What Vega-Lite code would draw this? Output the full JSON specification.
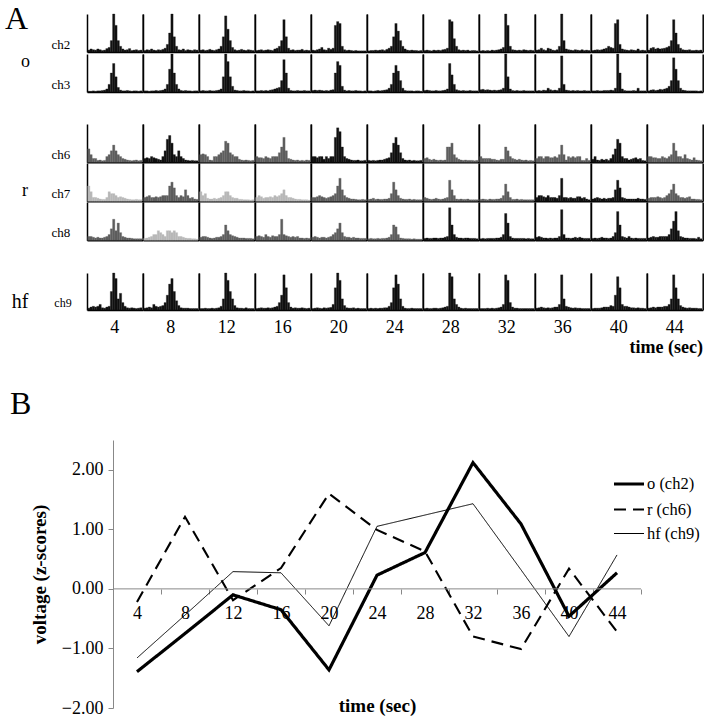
{
  "$schema": "https://vega.github.io/schema/vega-lite/v6.json",
  "padding": {"left": 5, "top": 2, "right": 5, "bottom": 2},
  "background": "white",
  "config": {
    "font": "Liberation Serif",
    "view": {"stroke": null},
    "axis": {"grid": false},
    "title": {"font": "Liberation Serif"},
    "header": {"labelFont": "Liberation Serif", "titleFont": "Liberation Serif"}
  },
  "title": {"text": "A", "anchor": "start", "fontSize": 32, "fontWeight": "normal", "dx": -5, "dy": 22, "offset": 0},
  "datasets": {
    "hist": [
      {"g":"o","ch":"ch2","t":4,"c":"k","v":[0.5,0.8,0.6,0.5,0.8,0.6,0.4,0.5,0.9,1.2,3,10,7,3,1.5,0.8,0.5,0.6,0.9,0.4,0.5,0.6,0.4,0.5]},
      {"g":"o","ch":"ch2","t":8,"c":"k","v":[0.4,0.6,0.5,0.8,0.5,0.4,0.6,0.5,0.7,1,2,5,10,4,1.5,0.6,0.5,0.8,0.4,0.6,0.5,0.4,0.6,0.5]},
      {"g":"o","ch":"ch2","t":12,"c":"k","v":[0.5,0.6,0.4,0.5,0.7,0.5,0.4,0.6,0.8,1.5,4,9.5,6,3,1.2,0.6,0.4,0.5,0.7,0.5,0.4,0.6,0.5,0.4]},
      {"g":"o","ch":"ch2","t":16,"c":"k","v":[0.4,0.5,0.6,0.4,0.5,0.6,0.5,0.4,0.8,1,1.5,3,8.5,4,1,0.5,0.6,0.4,0.5,0.5,0.7,0.4,0.5,0.4]},
      {"g":"o","ch":"ch2","t":20,"c":"k","v":[0.5,0.4,0.6,0.8,1.2,0.6,0.5,1,0.7,1,7,8,7.5,1.5,0.6,0.4,0.5,0.4,0.3,0.4,0.3,0.3,0.3,0.3]},
      {"g":"o","ch":"ch2","t":24,"c":"k","v":[0.3,0.4,0.4,0.5,0.4,0.5,0.6,0.4,0.7,1,1.5,4,7.5,5.5,3,1.5,0.8,0.5,0.4,0.5,0.4,0.4,0.3,0.4]},
      {"g":"o","ch":"ch2","t":28,"c":"k","v":[0.4,0.5,0.4,0.3,0.5,0.4,0.5,0.4,0.6,0.7,1,8.5,8,3.5,1.5,0.6,0.4,0.5,0.4,0.5,0.3,0.4,0.4,0.3]},
      {"g":"o","ch":"ch2","t":32,"c":"k","v":[0.3,0.4,0.3,0.4,0.3,0.5,0.4,0.5,0.6,0.8,1.2,10,7,1.5,0.6,0.5,0.4,0.5,0.4,0.6,0.5,0.4,0.5,0.4]},
      {"g":"o","ch":"ch2","t":36,"c":"k","v":[0.5,0.6,1,0.6,0.4,1,0.8,0.5,0.4,0.6,1.5,10,3,0.8,0.6,0.5,0.4,0.6,0.5,0.4,0.6,0.4,0.5,0.4]},
      {"g":"o","ch":"ch2","t":40,"c":"k","v":[0.4,0.5,0.6,0.5,0.6,0.8,1,1.5,1.2,1,7.5,8.5,2,0.8,0.6,0.5,0.4,0.6,0.5,0.4,0.8,0.4,0.5,0.4]},
      {"g":"o","ch":"ch2","t":44,"c":"k","v":[0.5,1,1.2,0.8,1,0.8,0.9,1,1.2,1.5,3,8.5,5,2,1,0.6,0.5,0.5,0.6,0.4,0.4,0.5,0.4,0.5]},
      {"g":"o","ch":"ch3","t":4,"c":"k","v":[0.2,0.2,0.3,0.2,0.3,0.3,0.4,0.5,0.8,2,5,7.5,4,1.2,0.5,0.3,0.3,0.4,0.3,0.2,0.3,0.3,0.2,0.3]},
      {"g":"o","ch":"ch3","t":8,"c":"k","v":[0.3,0.3,0.2,0.3,0.3,0.4,0.3,0.4,0.5,0.8,2,6,10,5,2,0.8,0.4,0.3,0.4,0.3,0.3,0.2,0.3,0.3]},
      {"g":"o","ch":"ch3","t":12,"c":"k","v":[0.3,0.4,0.3,0.3,0.4,0.3,0.3,0.4,0.5,0.8,4,10,8,4,1.5,0.5,0.4,0.3,0.3,0.4,0.3,0.3,0.2,0.3]},
      {"g":"o","ch":"ch3","t":16,"c":"k","v":[0.3,0.3,0.4,0.3,0.4,0.3,0.5,0.6,0.8,1,1.2,3,8.5,5,1,0.4,0.3,0.3,0.4,0.3,0.3,0.4,0.3,0.3]},
      {"g":"o","ch":"ch3","t":20,"c":"k","v":[0.4,0.5,0.4,0.5,0.4,0.3,0.4,0.3,0.5,0.6,5,8,7,1.5,0.5,0.3,0.4,0.3,0.3,0.4,0.3,0.3,0.2,0.3]},
      {"g":"o","ch":"ch3","t":24,"c":"k","v":[0.3,0.3,0.2,0.3,0.4,0.3,0.4,0.5,0.6,1,2,5,7,5.5,3,1,0.4,0.3,0.3,0.3,0.2,0.3,0.3,0.2]},
      {"g":"o","ch":"ch3","t":28,"c":"k","v":[0.4,0.5,0.4,0.3,0.3,0.4,0.3,0.3,0.4,0.5,0.8,7.5,4.5,2,0.6,0.4,0.3,0.4,0.3,0.3,0.4,0.3,0.3,0.3]},
      {"g":"o","ch":"ch3","t":32,"c":"k","v":[0.6,0.7,0.5,0.6,0.5,0.4,0.5,0.4,0.5,0.6,1,10,4,0.8,0.4,0.3,0.4,0.3,0.3,0.4,0.3,0.3,0.3,0.3]},
      {"g":"o","ch":"ch3","t":36,"c":"k","v":[0.3,0.4,0.3,0.5,0.4,1,0.6,0.4,0.5,0.4,1,9.5,2,0.5,0.4,0.3,0.4,0.3,0.4,0.3,0.3,0.4,0.3,0.3]},
      {"g":"o","ch":"ch3","t":40,"c":"k","v":[0.3,0.3,0.4,0.3,0.3,0.4,0.4,0.4,0.5,0.4,1,10,5,0.8,0.4,0.3,0.3,0.3,0.4,0.3,1,0.3,0.3,0.3]},
      {"g":"o","ch":"ch3","t":44,"c":"k","v":[0.3,0.5,0.6,0.4,0.5,0.7,0.6,0.8,1,1.5,3,9,6,3,1,0.5,0.4,0.3,0.3,0.3,0.3,0.3,0.2,0.3]},
      {"g":"r","ch":"ch6","t":4,"c":"d","v":[3.5,2,1,1,0.5,0.6,0.4,0.5,1.5,2,3,4.5,3,2,1.5,1,0.8,0.6,0.5,0.4,0.5,0.6,0.4,0.5]},
      {"g":"r","ch":"ch6","t":8,"c":"k","v":[1,1.2,1,1.5,1.2,1,0.8,0.6,1.5,3,6,7,5,2,1.5,3,1.5,1,0.6,0.5,0.4,0.5,0.4,0.4]},
      {"g":"r","ch":"ch6","t":12,"c":"d","v":[2,2.2,2,1.5,0.6,0.5,1.5,1.5,2,2.5,3,5.5,5,2.5,2,1.5,1.5,0.8,0.6,0.5,0.6,0.5,0.4,0.5]},
      {"g":"r","ch":"ch6","t":16,"c":"d","v":[1.5,1.2,1.2,1,1.5,1.2,1,1.5,1.5,1.5,2.5,4,6.5,3,1,0.8,0.6,0.5,0.6,0.4,0.5,0.4,0.6,0.5]},
      {"g":"r","ch":"ch6","t":20,"c":"k","v":[1.5,1.5,1.2,1.5,1.5,0.8,1.5,1,1.5,1.5,6.5,9,8,4,1.5,1,0.8,0.6,0.5,0.5,0.6,0.4,0.4,0.5]},
      {"g":"r","ch":"ch6","t":24,"c":"k","v":[0.5,0.4,0.5,0.4,0.5,0.6,0.6,0.8,1,1.2,2.5,5,6.5,4.5,2.5,1,0.6,0.5,0.6,0.4,0.5,0.4,0.4,0.5]},
      {"g":"r","ch":"ch6","t":28,"c":"d","v":[1,1.2,0.8,0.6,0.8,0.6,0.5,0.6,0.5,0.6,4,4,5,2,1.2,0.8,0.6,0.5,0.6,0.5,0.5,0.5,0.4,0.5]},
      {"g":"r","ch":"ch6","t":32,"c":"d","v":[1.5,1,1,1,1,0.8,0.8,0.6,0.5,0.8,0.8,4,3,1.5,1,0.8,0.6,0.8,0.6,0.5,0.6,0.4,0.5,0.4]},
      {"g":"r","ch":"ch6","t":36,"c":"d","v":[1,1.5,1.5,1,1.5,1.5,1.2,1.2,1.5,1.2,2,4.5,2,0.6,1.5,1.2,1.5,1.2,1.5,1.5,0.5,0.5,1,0.5]},
      {"g":"r","ch":"ch6","t":40,"c":"k","v":[0.8,1.5,0.6,0.5,0.8,0.6,0.8,0.5,1,2,3.5,6,5,1.5,1,1,0.6,0.8,1,1.2,0.8,1,0.5,0.4]},
      {"g":"r","ch":"ch6","t":44,"c":"d","v":[1.5,1.5,1.2,1.2,1,1,1.5,1.2,1,1.5,2,5,3,1.5,1.5,1,2,1,0.8,0.6,1.2,0.6,0.5,0.4]},
      {"g":"r","ch":"ch7","t":4,"c":"l","v":[4,2.5,1,1,0.8,0.6,0.5,0.5,1,2.5,2,2,1.5,1,1.2,1,0.8,0.6,0.5,0.4,0.4,0.5,0.4,0.4]},
      {"g":"r","ch":"ch7","t":8,"c":"d","v":[1,1.2,1.5,1,1,1.2,1,1.2,1.5,1.5,1.5,4,5,3.5,1.5,1,1.5,1.2,3,1.5,0.8,1,0.6,0.5]},
      {"g":"r","ch":"ch7","t":12,"c":"l","v":[2.5,1.5,2,0.8,0.6,0.6,0.8,0.6,0.8,1,1.5,2.5,2.5,1.5,1,0.8,0.8,0.5,0.5,0.4,0.4,0.4,0.3,0.4]},
      {"g":"r","ch":"ch7","t":16,"c":"l","v":[1,1.5,1.2,0.8,1,1,1.2,1,1.5,1.2,1.5,2,3,1.5,1,1,0.8,0.6,0.5,0.5,0.4,0.4,0.4,0.3]},
      {"g":"r","ch":"ch7","t":20,"c":"d","v":[1,1,1.2,1.5,1.2,1,0.8,1,1.2,1.5,2,4,6,3,1.5,1,0.8,0.6,0.6,0.5,0.4,0.4,0.5,0.4]},
      {"g":"r","ch":"ch7","t":24,"c":"d","v":[0.5,0.6,0.8,0.5,0.6,0.5,0.5,0.6,0.6,0.8,2,5,3,1.5,0.8,0.6,0.5,0.5,0.6,0.4,0.5,0.4,0.4,0.4]},
      {"g":"r","ch":"ch7","t":28,"c":"d","v":[1,0.8,0.6,0.5,0.6,0.8,0.6,0.5,0.6,0.8,1,5.5,3,1.5,0.6,0.5,0.6,0.5,0.5,0.6,0.4,0.4,0.4,0.4]},
      {"g":"r","ch":"ch7","t":32,"c":"d","v":[0.5,0.6,0.5,0.4,0.6,0.5,0.5,0.6,0.6,0.8,1.5,4.5,2.5,1,0.5,0.5,0.6,0.4,0.5,0.4,0.4,0.4,0.4,0.4]},
      {"g":"r","ch":"ch7","t":36,"c":"k","v":[1,1.5,1.5,1.2,1,1.5,1,1,1,0.8,1.5,6,1,1,0.8,1,0.8,0.8,1.2,1.2,0.8,1,0.6,0.4]},
      {"g":"r","ch":"ch7","t":40,"c":"k","v":[0.6,0.8,1,0.8,0.6,0.8,0.6,0.8,0.8,1,3,5.5,3.5,1,0.8,0.6,0.6,0.6,0.6,0.6,0.8,0.6,0.6,0.5]},
      {"g":"r","ch":"ch7","t":44,"c":"d","v":[0.8,1,1,1,1.2,1,0.8,1,1.5,2,3,4.5,2,1.5,1,1,0.8,1,1.2,0.6,0.6,0.5,0.5,0.4]},
      {"g":"r","ch":"ch8","t":4,"c":"d","v":[1,1,0.8,0.6,0.8,0.6,0.6,0.8,1,1.5,3,5.5,2.5,4.5,2,1,0.8,0.6,0.6,0.5,0.4,0.4,0.4,0.4]},
      {"g":"r","ch":"ch8","t":8,"c":"l","v":[0.5,0.6,0.8,1,1.5,1.5,2.5,2,1.5,1,2.5,2.5,2,2.5,2,1,1,0.8,0.6,0.5,0.5,0.4,0.4,0.3]},
      {"g":"r","ch":"ch8","t":12,"c":"d","v":[0.8,1,1,0.8,0.6,0.5,0.6,0.8,0.8,1,1.5,4,2.5,1.5,1.2,1,0.8,0.6,0.6,0.6,0.5,0.5,0.5,0.4]},
      {"g":"r","ch":"ch8","t":16,"c":"d","v":[1,1.2,1,0.8,1.5,1,0.8,1.2,1,1,1.5,5.5,1.5,1.2,1,0.8,1,0.8,1,0.6,0.6,0.5,0.6,0.5]},
      {"g":"r","ch":"ch8","t":20,"c":"d","v":[0.8,1,0.8,0.6,0.8,0.8,0.6,0.8,1,1.5,2,3,4.5,2,1,0.8,0.8,0.6,0.8,0.6,0.6,0.5,0.5,0.5]},
      {"g":"r","ch":"ch8","t":24,"c":"d","v":[0.4,0.5,0.4,0.4,0.5,0.4,0.5,0.5,0.6,0.8,1.5,4,3.5,1.5,0.6,0.5,0.4,0.4,0.4,0.3,0.4,0.3,0.3,0.3]},
      {"g":"r","ch":"ch8","t":28,"c":"k","v":[0.5,0.6,0.5,0.5,0.6,0.6,0.5,0.6,0.6,0.8,1,8.5,4,1.5,0.8,0.6,0.6,0.5,0.6,0.6,0.5,0.5,0.5,0.4]},
      {"g":"r","ch":"ch8","t":32,"c":"k","v":[0.4,0.5,0.4,0.5,0.5,0.5,0.5,0.6,0.6,0.8,1.5,7,4.5,1,0.6,0.5,0.5,0.5,0.5,0.5,0.4,0.5,0.4,0.4]},
      {"g":"r","ch":"ch8","t":36,"c":"k","v":[0.8,1,0.8,0.6,0.6,0.5,0.6,0.5,0.6,0.6,1,8,1.5,0.6,0.6,0.5,0.6,0.8,0.6,0.8,0.6,0.5,0.5,0.5]},
      {"g":"r","ch":"ch8","t":40,"c":"k","v":[0.5,0.6,0.5,0.6,0.8,0.6,0.6,0.5,0.6,1,2,7.5,4,1,0.8,0.6,1,0.6,0.5,0.6,0.5,0.5,0.5,0.5]},
      {"g":"r","ch":"ch8","t":44,"c":"k","v":[0.6,0.8,1,0.8,0.8,1,1,1,1,1.5,3,5,7.5,2.5,1,0.8,0.6,0.6,0.5,0.5,0.5,0.4,0.8,0.4]},
      {"g":"hf","ch":"ch9","t":4,"c":"k","v":[0.5,0.8,1,0.8,1,1.5,0.6,0.5,0.8,1,5,10,8.5,3,4.5,2,1,0.6,0.5,0.6,0.5,0.4,0.5,0.6]},
      {"g":"hf","ch":"ch9","t":8,"c":"k","v":[0.5,0.6,0.8,0.6,1.5,1,0.8,1,1.2,2,4,7,8.5,5,2.5,1.2,0.6,0.5,0.5,0.5,0.4,0.4,0.4,0.4]},
      {"g":"hf","ch":"ch9","t":12,"c":"k","v":[0.4,0.4,0.5,0.4,0.4,0.5,0.4,0.5,0.6,1,3,10,8,5,3,1.2,0.6,0.5,0.5,0.4,0.6,0.4,0.4,0.4]},
      {"g":"hf","ch":"ch9","t":16,"c":"k","v":[0.4,0.5,0.6,0.5,0.5,0.6,0.5,0.6,0.8,1,2,4,9.5,6,2,0.8,0.5,0.6,0.5,0.5,0.6,0.5,0.4,0.5]},
      {"g":"hf","ch":"ch9","t":20,"c":"k","v":[0.4,0.5,0.6,0.5,0.4,0.6,0.5,0.6,0.7,1.5,6,10,8,3,1.2,0.6,0.5,0.5,0.6,0.4,0.5,0.4,0.4,0.4]},
      {"g":"hf","ch":"ch9","t":24,"c":"k","v":[0.4,0.5,0.4,0.5,0.4,0.5,0.5,0.6,0.6,1,2,6,9.5,7,3,1,0.5,0.4,0.4,0.5,0.4,0.4,0.4,0.4]},
      {"g":"hf","ch":"ch9","t":28,"c":"k","v":[0.4,0.5,0.4,0.4,0.5,0.5,0.4,0.5,0.6,0.8,1,10,9,3,1.5,0.8,0.5,0.4,0.5,0.4,0.4,0.4,0.4,0.4]},
      {"g":"hf","ch":"ch9","t":32,"c":"k","v":[0.4,0.4,0.4,0.5,0.4,0.5,0.4,0.5,0.6,0.8,1.5,9.5,8,2,0.8,0.5,0.5,0.4,0.4,0.4,0.4,0.4,0.4,0.4]},
      {"g":"hf","ch":"ch9","t":36,"c":"k","v":[0.5,0.6,0.8,0.6,0.5,0.6,0.5,0.6,0.8,0.8,1.5,9.5,3,1,0.8,0.6,0.5,0.6,0.5,0.5,0.4,0.4,0.4,0.4]},
      {"g":"hf","ch":"ch9","t":40,"c":"k","v":[0.4,0.5,0.5,0.5,0.6,0.8,0.8,0.8,1.2,1,4,9,6,1.5,1,1,0.8,0.6,0.6,0.5,0.6,0.5,0.5,0.4]},
      {"g":"hf","ch":"ch9","t":44,"c":"k","v":[0.5,0.6,0.8,0.6,0.8,0.8,0.8,1,1,1.5,3,9.5,6,3,1.2,0.8,0.6,0.5,0.6,0.5,0.5,0.5,0.4,0.4]}
    ],
    "z": [
      {"s":"o (ch2)","t":4,"z":-1.39},{"s":"o (ch2)","t":8,"z":-0.75},{"s":"o (ch2)","t":12,"z":-0.10},{"s":"o (ch2)","t":16,"z":-0.35},{"s":"o (ch2)","t":20,"z":-1.36},{"s":"o (ch2)","t":24,"z":0.23},{"s":"o (ch2)","t":28,"z":0.61},{"s":"o (ch2)","t":32,"z":2.12},{"s":"o (ch2)","t":36,"z":1.09},{"s":"o (ch2)","t":40,"z":-0.46},{"s":"o (ch2)","t":44,"z":0.27},
      {"s":"r (ch6)","t":4,"z":-0.22},{"s":"r (ch6)","t":8,"z":1.21},{"s":"r (ch6)","t":12,"z":-0.19},{"s":"r (ch6)","t":16,"z":0.35},{"s":"r (ch6)","t":20,"z":1.60},{"s":"r (ch6)","t":24,"z":0.99},{"s":"r (ch6)","t":28,"z":0.63},{"s":"r (ch6)","t":32,"z":-0.80},{"s":"r (ch6)","t":36,"z":-1.01},{"s":"r (ch6)","t":40,"z":0.34},{"s":"r (ch6)","t":44,"z":-0.72},
      {"s":"hf (ch9)","t":4,"z":-1.16},{"s":"hf (ch9)","t":8,"z":-0.44},{"s":"hf (ch9)","t":12,"z":0.29},{"s":"hf (ch9)","t":16,"z":0.27},{"s":"hf (ch9)","t":20,"z":-0.62},{"s":"hf (ch9)","t":24,"z":1.05},{"s":"hf (ch9)","t":28,"z":1.24},{"s":"hf (ch9)","t":32,"z":1.43},{"s":"hf (ch9)","t":36,"z":0.32},{"s":"hf (ch9)","t":40,"z":-0.80},{"s":"hf (ch9)","t":44,"z":0.57}
    ]
  },
  "columns": 1,
  "spacing": 31,
  "resolve": {"legend": {"strokeDash": "independent", "strokeWidth": "independent"}},
  "concat": [
    {
      "data": {"name": "hist"},
      "transform": [
        {"filter": "datum.g === 'o'"},
        {"flatten": ["v"]},
        {"window": [{"op": "row_number", "as": "i"}], "groupby": ["ch", "t"]}
      ],
      "facet": {
        "row": {"field": "ch", "type": "nominal", "header": {"labelOrient": "left", "labelAngle": 0, "labelAlign": "right", "labelFontSize": 13, "labelPadding": -2, "labelAnchor": "start", "labelBaseline": "bottom", "title": "o", "titleOrient": "left", "titleAngle": 0, "titleFontSize": 18, "titleFontWeight": "normal", "titlePadding": 2, "titleBaseline": "top"}},
        "column": {"field": "t", "type": "ordinal", "header": {"labels": false, "title": null}}
      },
      "spacing": {"row": 0, "column": 0},
      "resolve": {"axis": {"x": "independent", "y": "independent"}},
      "spec": {
        "width": 55.7, "height": 38,
        "layer": [
          {
            "mark": {"type": "bar", "strokeWidth": 0.3},
            "encoding": {
              "x": {"field": "i", "type": "ordinal", "scale": {"paddingInner": 0, "paddingOuter": 0.3}, "axis": {"title": null, "labels": false, "ticks": false, "domainColor": "#000", "domainWidth": 1.5}},
              "y": {"field": "v", "type": "quantitative", "scale": {"domain": [0, 10]}, "axis": {"title": null, "labels": false, "ticks": false, "domainColor": "#000", "domainWidth": 1.5}},
              "color": {"field": "c", "type": "nominal", "scale": {"domain": ["k", "d", "l"], "range": ["#111111", "#5e5e5e", "#b8b8b8"]}, "legend": null},
              "stroke": {"field": "c", "type": "nominal", "scale": {"domain": ["k", "d", "l"], "range": ["#111111", "#5e5e5e", "#b8b8b8"]}, "legend": null}
            }
          },
          {
            "mark": {"type": "bar", "opacity": 0},
            "encoding": {
              "x": {"field": "i", "type": "ordinal"},
              "y": {"field": "v", "type": "quantitative", "axis": {"orient": "right", "title": null, "labels": false, "ticks": false, "domainColor": "#000", "domainWidth": 1.5}}
            }
          }
        ],
        "resolve": {"axis": {"y": "independent"}}
      }
    },
    {
      "data": {"name": "hist"},
      "transform": [
        {"filter": "datum.g === 'r'"},
        {"flatten": ["v"]},
        {"window": [{"op": "row_number", "as": "i"}], "groupby": ["ch", "t"]}
      ],
      "facet": {
        "row": {"field": "ch", "type": "nominal", "header": {"labelOrient": "left", "labelAngle": 0, "labelAlign": "right", "labelFontSize": 13, "labelPadding": -2, "labelAnchor": "start", "labelBaseline": "bottom", "title": "r", "titleOrient": "left", "titleAngle": 0, "titleFontSize": 18, "titleFontWeight": "normal", "titlePadding": 7, "titleBaseline": "top"}},
        "column": {"field": "t", "type": "ordinal", "header": {"labels": false, "title": null}}
      },
      "spacing": {"row": 0, "column": 0},
      "resolve": {"axis": {"x": "independent", "y": "independent"}},
      "spec": {
        "width": 55.7, "height": 38.3,
        "layer": [
          {
            "mark": {"type": "bar", "strokeWidth": 0.3},
            "encoding": {
              "x": {"field": "i", "type": "ordinal", "scale": {"paddingInner": 0, "paddingOuter": 0.3}, "axis": {"title": null, "labels": false, "ticks": false, "domainColor": "#000", "domainWidth": 1.5}},
              "y": {"field": "v", "type": "quantitative", "scale": {"domain": [0, 10]}, "axis": {"title": null, "labels": false, "ticks": false, "domainColor": "#000", "domainWidth": 1.5}},
              "color": {"field": "c", "type": "nominal", "scale": {"domain": ["k", "d", "l"], "range": ["#111111", "#5e5e5e", "#b8b8b8"]}, "legend": null},
              "stroke": {"field": "c", "type": "nominal", "scale": {"domain": ["k", "d", "l"], "range": ["#111111", "#5e5e5e", "#b8b8b8"]}, "legend": null}
            }
          },
          {
            "mark": {"type": "bar", "opacity": 0},
            "encoding": {
              "x": {"field": "i", "type": "ordinal"},
              "y": {"field": "v", "type": "quantitative", "axis": {"orient": "right", "title": null, "labels": false, "ticks": false, "domainColor": "#000", "domainWidth": 1.5}}
            }
          }
        ],
        "resolve": {"axis": {"y": "independent"}}
      }
    },
    {
      "data": {"name": "hist"},
      "transform": [
        {"filter": "datum.g === 'hf'"},
        {"flatten": ["v"]},
        {"window": [{"op": "row_number", "as": "i"}], "groupby": ["ch", "t"]}
      ],
      "facet": {
        "row": {"field": "ch", "type": "nominal", "header": {"labelOrient": "left", "labelAngle": 0, "labelAlign": "right", "labelFontSize": 12, "labelPadding": -2, "labelAnchor": "start", "labelBaseline": "bottom", "title": "hf", "titleOrient": "left", "titleAngle": 0, "titleFontSize": 20, "titleFontWeight": "normal", "titlePadding": -1, "titleBaseline": "top"}},
        "column": {"field": "t", "type": "ordinal", "header": {"labelOrient": "bottom", "labelFontSize": 18, "labelPadding": 8, "title": "time (sec)", "titleOrient": "bottom", "titleAnchor": "end", "titleFontSize": 18, "titleFontWeight": "bold", "titlePadding": -8}}
      },
      "spacing": {"row": 0, "column": 0},
      "resolve": {"axis": {"x": "independent", "y": "independent"}},
      "spec": {
        "width": 55.7, "height": 37,
        "layer": [
          {
            "mark": {"type": "bar", "strokeWidth": 0.3},
            "encoding": {
              "x": {"field": "i", "type": "ordinal", "scale": {"paddingInner": 0, "paddingOuter": 0.3}, "axis": {"title": null, "labels": false, "ticks": false, "domainColor": "#000", "domainWidth": 1.5}},
              "y": {"field": "v", "type": "quantitative", "scale": {"domain": [0, 10]}, "axis": {"title": null, "labels": false, "ticks": false, "domainColor": "#000", "domainWidth": 1.5}},
              "color": {"field": "c", "type": "nominal", "scale": {"domain": ["k", "d", "l"], "range": ["#111111", "#5e5e5e", "#b8b8b8"]}, "legend": null},
              "stroke": {"field": "c", "type": "nominal", "scale": {"domain": ["k", "d", "l"], "range": ["#111111", "#5e5e5e", "#b8b8b8"]}, "legend": null}
            }
          },
          {
            "mark": {"type": "bar", "opacity": 0},
            "encoding": {
              "x": {"field": "i", "type": "ordinal"},
              "y": {"field": "v", "type": "quantitative", "axis": {"orient": "right", "title": null, "labels": false, "ticks": false, "domainColor": "#000", "domainWidth": 1.5}}
            }
          }
        ],
        "resolve": {"axis": {"y": "independent"}}
      }
    },
    {
      "data": {"name": "z"},
      "width": 554, "height": 268,
      "title": {"text": "B", "anchor": "start", "frame": "group", "fontSize": 32, "fontWeight": "normal", "dx": -77, "offset": 19},
      "layer": [
        {
          "mark": {"type": "line", "color": "black"},
          "encoding": {
            "x": {"field": "t", "type": "quantitative", "scale": {"domain": [-0.1667, 46], "nice": false, "zero": false},
              "axis": {"title": "time (sec)", "values": [6, 10, 14, 18, 22, 26, 30, 34, 38, 42, 46], "labelExpr": "datum.value - 2", "labelOffset": -24, "labelFlush": false, "labelOverlap": false, "domain": false, "offset": -119, "tickColor": "#888", "labelFontSize": 18, "labelColor": "#000", "labelPadding": 10, "tickSize": 5, "titleFontSize": 19, "titleFontWeight": "bold", "titleColor": "#000", "titleX": 290, "titleY": 116, "titleBaseline": "middle"}},
            "y": {"field": "z", "type": "quantitative", "scale": {"domain": [-2, 2.5], "nice": false, "zero": false},
              "axis": {"values": [-2, -1, 0, 1, 2], "format": ".2f", "title": "voltage (z-scores)", "offset": -26, "tickSize": 5, "labelFontSize": 18, "labelColor": "#000", "titleFontSize": 19, "titleFontWeight": "bold", "titleColor": "#000", "domainColor": "#888", "tickColor": "#888", "labelPadding": 5, "titlePadding": 12}},
            "strokeDash": {"field": "s", "type": "nominal", "scale": {"domain": ["o (ch2)", "r (ch6)", "hf (ch9)"], "range": [[1, 0], [12, 7], [1, 0]]},
              "legend": {"orient": "none", "legendX": 525, "legendY": 27, "title": null, "symbolType": "stroke", "symbolSize": 900, "symbolStrokeColor": "black", "labelFontSize": 16.5, "labelColor": "#000", "rowPadding": -2, "labelOffset": 1}},
            "strokeWidth": {"field": "s", "type": "nominal", "scale": {"type": "point", "padding": 0, "domain": ["o (ch2)", "r (ch6)", "hf (ch9)"], "range": [3.2, 1]},
              "legend": {"orient": "none", "legendX": 525, "legendY": 27, "title": null, "symbolType": "stroke", "symbolSize": 900, "symbolStrokeColor": "black", "labelFontSize": 16.5, "labelColor": "#000", "rowPadding": -2, "labelOffset": 1}}
          }
        },
        {
          "data": {"values": [{"t": 2, "t2": 46, "z": 0}]},
          "mark": {"type": "rule", "color": "#888", "strokeWidth": 1},
          "encoding": {
            "x": {"field": "t", "type": "quantitative"},
            "x2": {"field": "t2"},
            "y": {"field": "z", "type": "quantitative"}
          }
        }
      ]
    }
  ]
}
